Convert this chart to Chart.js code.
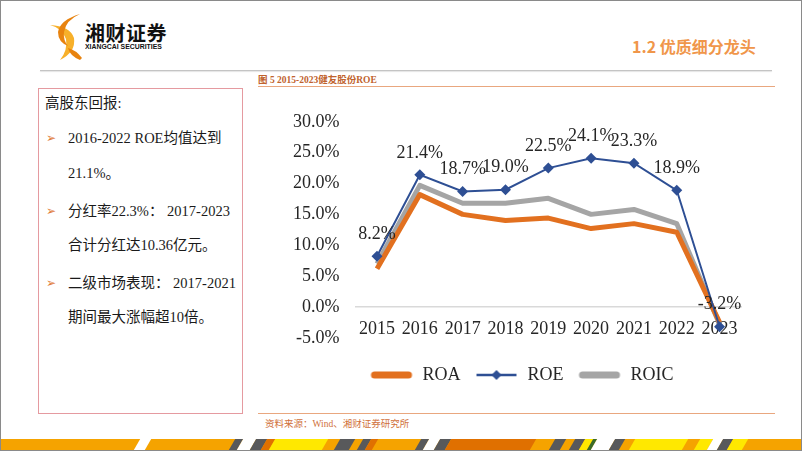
<!DOCTYPE html>
<html>
<head>
<meta charset="utf-8">
<script src="https://cdn.jsdelivr.net/npm/chart.js@4/dist/chart.umd.min.js"></script>
<style>
  html, body { margin: 0; padding: 0; }
  body { width: 802px; height: 451px; position: relative; overflow: hidden; background: #fff;
         font-family: "Liberation Serif", "Noto Sans CJK SC", serif; }
  .frame { position: absolute; left: 0; top: 0; width: 802px; height: 451px; box-sizing: border-box;
           border: 1px solid #8a8a8a; pointer-events: none; z-index: 5; }
  .abs { position: absolute; white-space: nowrap; }
  .brand { left: 85px; top: 18px; font: bold 20px "Noto Sans CJK SC", sans-serif; color: #111; letter-spacing: 0.5px; }
  .brand-en { left: 85px; top: 42px; font: bold 8px "Liberation Sans", sans-serif; color: #111;
              transform: scaleX(0.86); transform-origin: left top; }
  .head-line { left: 40px; top: 70px; width: 732px; height: 1px; background: #c4c4c4; box-shadow: 0 1px 1px #e2e2e2; }
  .title { left: 632px; top: 34px; font: bold 16px "Noto Sans CJK SC", sans-serif; color: #F0964A; }
  .caption { left: 258px; top: 72px; font: bold 9.5px "Liberation Serif", "Noto Sans CJK SC", serif; color: #C0622D; }
  .cap-line { left: 258px; top: 86px; width: 517px; height: 1px; background: #E9A77F; }
  .src-line { left: 258px; top: 413px; width: 517px; height: 1px; background: #E9A77F; }
  .source { left: 265px; top: 416px; font: 9.5px "Liberation Serif", "Noto Sans CJK SC", serif; color: #D0703A; }
  .box { left: 38px; top: 88px; width: 205px; height: 326px; box-sizing: border-box; border: 1px solid #E59AA0; }
  .txt { font-size: 14.5px; color: #1a1a1a; line-height: 18px; }
  .bullet { font: 12px "DejaVu Sans", sans-serif; color: #E07B39; line-height: 18px; }
  .stripes { left: 0; top: 439px; width: 802px; height: 11px; background: #F5A300; overflow: hidden; }
  .stripes div { position: absolute; top: 0; height: 11px; transform: skewX(-30deg); }
  #wrap { position: absolute; left: 270px; top: 95px; width: 500px; height: 310px; }
</style>
</head>
<body>
<div class="frame"></div>

<svg class="abs" style="left:46px;top:12px" width="38" height="50" viewBox="0 0 38 50">
  <path d="M4 13 Q16 16 20 27 Q22 38 14 48 Q30 40 28 26 Q24 14 4 13Z" fill="#F7B02A"/>
  <path d="M34 2 Q20 8 18 20 Q17 28 22 34 Q12 30 12 20 Q14 8 34 2Z" fill="#E8830F"/>
  <path d="M34 48 Q24 44 22 36 Q30 38 36 46Z" fill="#E8830F"/>
</svg>
<div class="abs brand">湘财证券</div>
<div class="abs brand-en">XIANGCAI SECURITIES</div>
<div class="abs head-line"></div>
<div class="abs title">1.2 优质细分龙头</div>

<div class="abs caption">图 5 2015-2023健友股份ROE</div>
<div class="abs cap-line"></div>

<div class="abs box"></div>
<div class="abs txt" style="left:45px;top:94px">高股东回报:</div>
<div class="abs bullet" style="left:46px;top:129px">➢</div>
<div class="abs txt" style="left:68px;top:129px">2016-2022 ROE均值达到</div>
<div class="abs txt" style="left:68px;top:164px">21.1%。</div>
<div class="abs bullet" style="left:46px;top:202px">➢</div>
<div class="abs txt" style="left:68px;top:202px">分红率22.3%： 2017-2023</div>
<div class="abs txt" style="left:68px;top:236px">合计分红达10.36亿元。</div>
<div class="abs bullet" style="left:46px;top:274px">➢</div>
<div class="abs txt" style="left:68px;top:274px">二级市场表现： 2017-2021</div>
<div class="abs txt" style="left:68px;top:308px">期间最大涨幅超10倍。</div>

<div id="wrap"><canvas id="chart"></canvas></div>

<div class="abs src-line"></div>
<div class="abs source">资料来源：Wind、湘财证券研究所</div>
<div class="abs stripes" id="stripes"></div>

<script>
// values (percent)
const years = ['2015', '2016', '2017', '2018', '2019', '2020', '2021', '2022', '2023'];
const roa = [6.2, 18.2, 15.0, 14.0, 14.4, 12.7, 13.5, 12.1, -2.5];
const roe = [8.2, 21.4, 18.7, 19.0, 22.5, 24.1, 23.3, 18.9, -3.2];
const roic = [7.0, 19.7, 16.8, 16.8, 17.6, 15.0, 15.8, 13.5, -2.8];

const ORANGE = '#E2701F';
const BLUE = '#2E4F94';
const GRAY = '#A5A5A5';
const INK = '#262626';

// bottom decoration stripes
const G = '#58595b', DO = '#E07000', Y = '#FFE800';
const stripeSegs = [
  [137, 148, '#fff'], [232, 240, G], [240, 253, '#fff'], [253, 264, G], [264, 272, DO], [272, 325, Y],
  [337, 352, G], [360, 368, G], [368, 375, DO], [418, 426, G], [426, 437, '#fff'], [437, 448, G],
  [448, 533, DO], [552, 563, G], [572, 582, G], [582, 590, Y], [590, 594, '#3a6b2a'], [594, 612, '#fff'],
  [612, 622, G], [632, 685, Y], [697, 710, Y], [710, 720, '#fff'], [720, 730, G], [730, 745, Y],
];
const strip = document.getElementById('stripes');
stripeSegs.forEach(([a, b, c]) => {
  const d = document.createElement('div');
  d.style.left = a + 'px'; d.style.width = (b - a) + 'px'; d.style.background = c;
  strip.appendChild(d);
});

function legendIcon(color, lw, diamond) {
  const c = document.createElement('canvas');
  c.width = 44; c.height = 14;
  const g = c.getContext('2d');
  g.strokeStyle = color; g.lineWidth = lw; g.lineCap = diamond ? 'butt' : 'round';
  g.beginPath(); g.moveTo(diamond ? 2 : 5, 7); g.lineTo(diamond ? 42 : 39, 7); g.stroke();
  if (diamond) {
    g.fillStyle = color;
    g.beginPath(); g.moveTo(22, 2); g.lineTo(27, 7); g.lineTo(22, 12); g.lineTo(17, 7); g.closePath(); g.fill();
  }
  return c;
}
const icons = [legendIcon(ORANGE, 7, false), legendIcon(BLUE, 2.5, true), legendIcon(GRAY, 7, false)];

const roeLabels = {
  id: 'roeLabels',
  afterDatasetsDraw(chart) {
    const meta = chart.getDatasetMeta(1);
    const ctx = chart.ctx;
    ctx.save();
    ctx.font = '18px "Liberation Serif", serif';
    ctx.fillStyle = INK;
    ctx.textAlign = 'center';
    ctx.textBaseline = 'middle';
    meta.data.forEach((pt, i) => ctx.fillText(roe[i].toFixed(1) + '%', pt.x, pt.y - 22));
    ctx.restore();
  }
};

// nudge the legend row so it sits under the plot like the original
const legendShift = {
  id: 'legendShift',
  afterLayout(chart) {
    chart.legend.left += 11;
    chart.legend.right += 11;
  }
};

Chart.defaults.font.family = '"Liberation Serif", "Times New Roman", serif';
Chart.defaults.font.size = 18;
Chart.defaults.color = INK;

new Chart(document.getElementById('chart'), {
  type: 'line',
  data: {
    labels: years,
    datasets: [
      { label: 'ROA', data: roa, borderColor: ORANGE, backgroundColor: ORANGE, borderWidth: 5,
        pointRadius: 0, order: 1, borderJoinStyle: 'round' },
      { label: 'ROE', data: roe, borderColor: BLUE, backgroundColor: BLUE, borderWidth: 2,
        pointStyle: 'rectRot', pointRadius: 5.5, pointBorderWidth: 0, order: 0 },
      { label: 'ROIC', data: roic, borderColor: GRAY, backgroundColor: GRAY, borderWidth: 5,
        pointRadius: 0, order: 2, borderJoinStyle: 'round' },
    ],
  },
  options: {
    responsive: true, maintainAspectRatio: false, animation: false,
    layout: { padding: { left: 10, right: 29, top: 18, bottom: 11 } },
    plugins: {
      tooltip: { enabled: false },
      legend: {
        position: 'bottom',
        title: { display: true, text: '', font: { size: 1 }, padding: { top: 6, bottom: 7 } },
        labels: {
          usePointStyle: true, pointStyleWidth: 44, padding: 14,
          color: INK, font: { size: 18 },
          sort: (a, b) => a.datasetIndex - b.datasetIndex,
          generateLabels: chart => Chart.defaults.plugins.legend.labels.generateLabels(chart)
            .map(l => Object.assign(l, { pointStyle: icons[l.datasetIndex] })),
        },
      },
    },
    scales: {
      x: {
        position: { y: 0 },
        offset: true,
        grid: { display: false, drawTicks: false, offset: true },
        border: { display: true, color: '#D9D9D9', width: 1.5 },
        ticks: { padding: 12, maxRotation: 0, autoSkip: false },
        afterFit: s => { s.height = 0; },
      },
      y: {
        min: -5, max: 30,
        grid: { display: false, drawTicks: false },
        border: { display: false },
        ticks: { stepSize: 5, padding: 16, callback: v => v.toFixed(1) + '%' },
        afterFit: s => { s.width = 75.6; },
      },
    },
  },
  plugins: [roeLabels, legendShift],
});
</script>
</body>
</html>
